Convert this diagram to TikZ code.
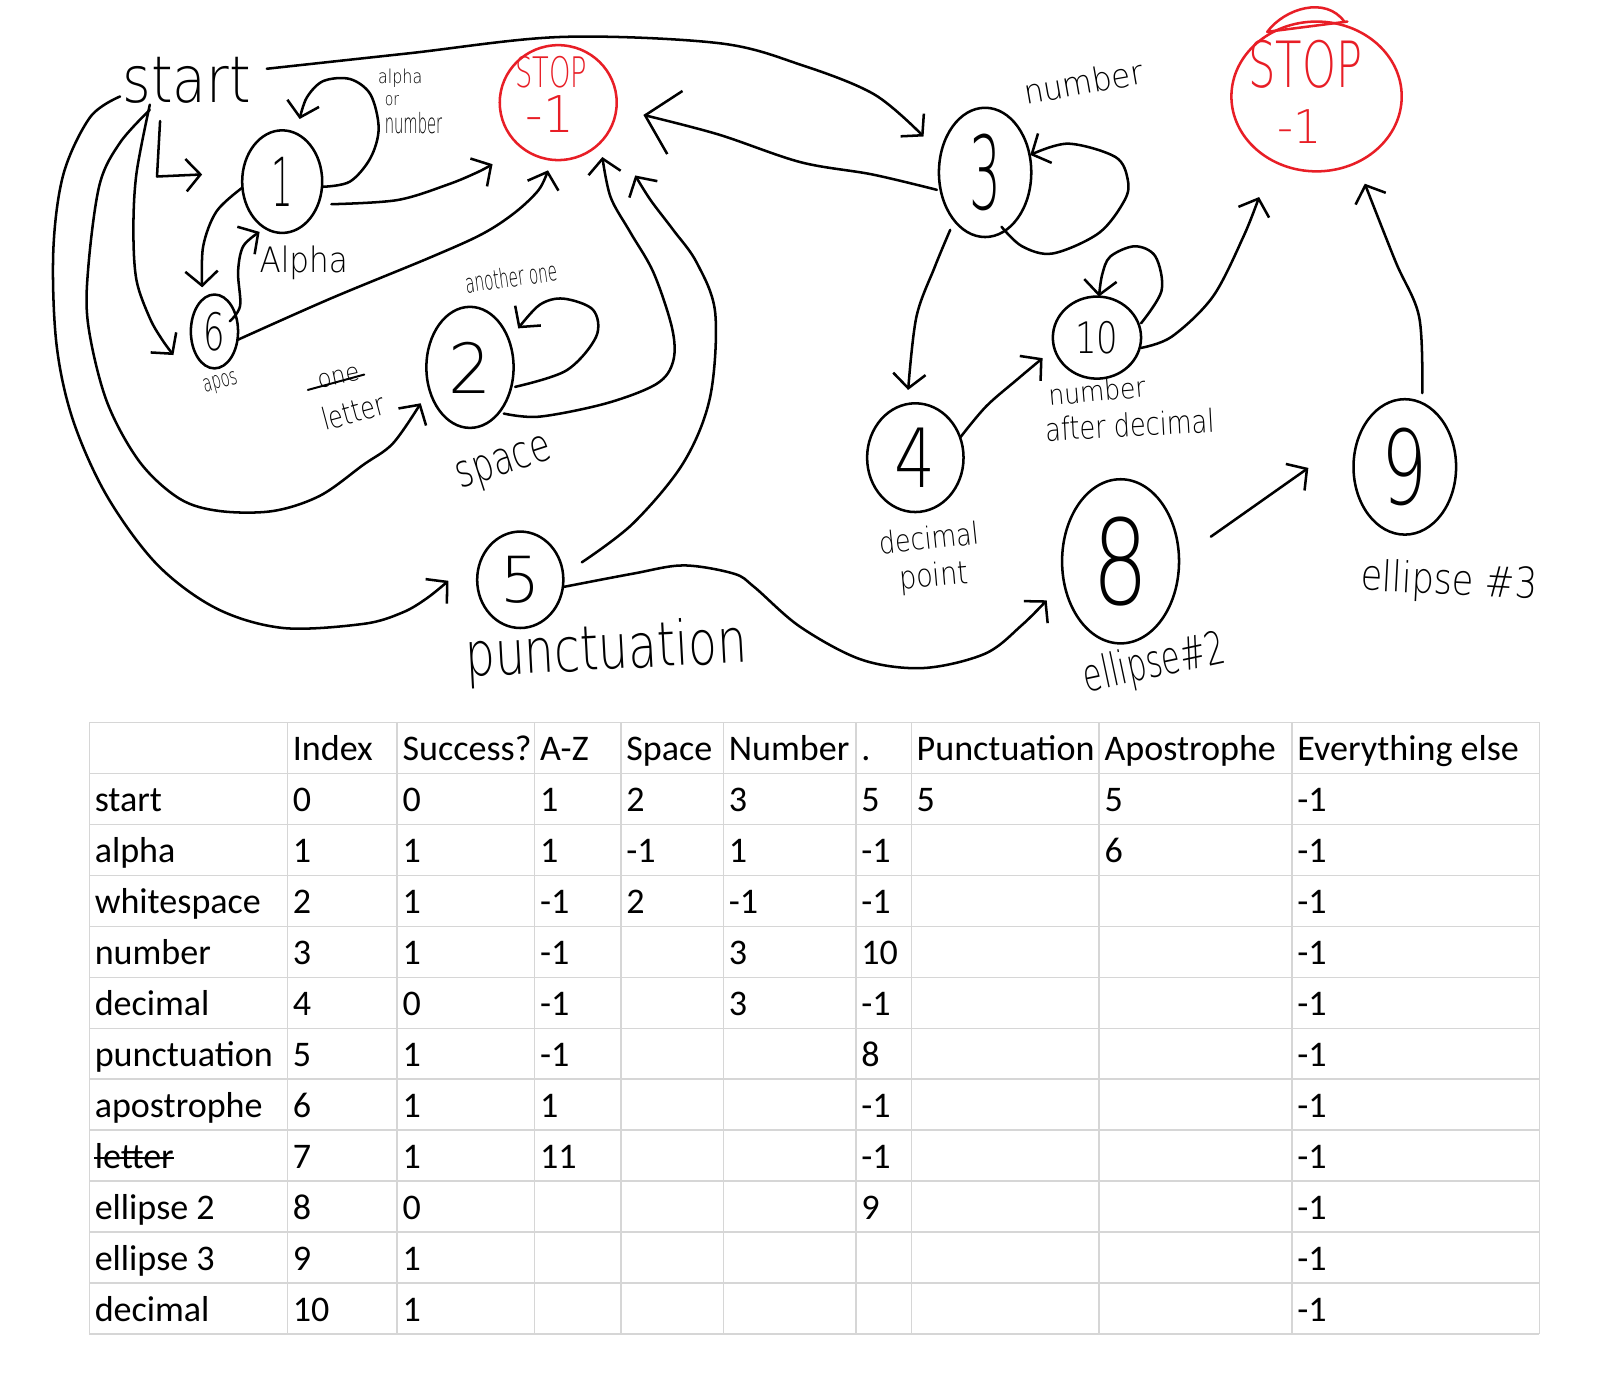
\documentclass[tikz,border=0pt]{standalone}
\usepackage{fontspec}
\usepackage{graphicx}
\setmainfont{Carlito}
\IfFontExistsTF{DejaVu Sans ExtraLight}{\newfontfamily\handfont{DejaVu Sans ExtraLight}}{\newfontfamily\handfont{Carlito}}
\usetikzlibrary{arrows.meta,shapes.geometric}
\definecolor{hred}{RGB}{232,30,38}
\definecolor{gridc}{RGB}{214,214,214}
\newcommand{\fs}[1]{\fontsize{#1}{#1}\selectfont}
\newcommand{\hb}[3]{{\handfont\resizebox*{#1}{#2}{#3}}}
\begin{document}
\begin{tikzpicture}[x=0.02cm,y=-0.02cm,
  ink/.style={line width=1.4pt,line cap=round,line join=round},
  arr/.style={ink,-{Straight Barb[length=8pt,width=18pt]}},
  bigarr/.style={ink,-{Straight Barb[length=17pt,width=36pt]}},
  state/.style={ellipse,draw,ink,inner sep=0pt},
  stopst/.style={ellipse,draw=hred,ink,inner sep=-0.2cm,text=hred,align=center},
  hand/.style={inner sep=0pt},
  cell/.style={anchor=base west,inner sep=0pt,font=\fs{20}},
  gridline/.style={draw=gridc,line width=0.8pt},
  hsmooth/.style={smooth,tension=0.55}
]
\useasboundingbox (0,0) rectangle (1568,1356);
\fill[white] (0,0) rectangle (1568,1356);

% ---------------- states ----------------
\node[hand] (start) at (182,78) {\hb{2.5cm}{0.9cm}{start}};

\node[state,minimum width=1.56cm,minimum height=2.0cm] (n1) at (275,177) {\hb{0.42cm}{0.96cm}{1}};
\node[state,minimum width=0.92cm,minimum height=1.44cm] (n6) at (209,323) {\hb{0.42cm}{0.76cm}{6}};
\node[state,minimum width=1.7cm,minimum height=2.36cm] (n2) at (458,358) {\hb{0.84cm}{1.0cm}{2}};
\node[state,minimum width=1.68cm,minimum height=1.88cm] (n5) at (507,565) {\hb{0.78cm}{0.92cm}{5}};
\node[state,minimum width=1.8cm,minimum height=2.52cm] (n3) at (960,168) {\hb{0.62cm}{1.5cm}{3}};
\node[state,minimum width=1.88cm,minimum height=2.12cm] (n4) at (892,446) {\hb{0.8cm}{1.16cm}{4}};
\node[state,minimum width=1.72cm,minimum height=1.6cm] (n10) at (1069,329) {\hb{0.84cm}{0.64cm}{10}};
\node[state,minimum width=2.28cm,minimum height=3.2cm] (n8) at (1092,547) {\hb{1.1cm}{1.74cm}{8}};
\node[state,minimum width=2.0cm,minimum height=2.64cm] (n9) at (1369,455) {\hb{0.9cm}{1.52cm}{9}};

\node[stopst,minimum width=2.28cm,minimum height=2.24cm] (stopL) at (544,100)
  {\hb{1.4cm}{0.62cm}{STOP}\rule{0.28cm}{0pt}\\[0.125cm]\hb{0.94cm}{0.72cm}{-1}\rule{0.32cm}{0pt}\rule[-0.32cm]{0pt}{0pt}};
\node[stopst,minimum width=3.32cm,minimum height=2.92cm] (stopR) at (1283,94)
  {\hb{2.22cm}{0.94cm}{STOP}\rule{0.44cm}{0pt}\\[0.385cm]\hb{0.86cm}{0.66cm}{-1}\rule{0.68cm}{0pt}\rule[-0.18cm]{0pt}{0pt}};
\draw[ink,hred] (1235,31) .. controls (1252,8) and (1292,-4) .. (1310,21);
\draw[ink,hred] (1235,31) -- (1313,21);

% ---------------- labels ----------------
\node[hand] (labAl) at (390,76) {\hb{0.86cm}{0.36cm}{alpha}};
\node[hand] (labOr) at (382,98) {\hb{0.28cm}{0.2cm}{or}};
\node[hand] (labNu) at (403,120) {\hb{1.12cm}{0.42cm}{number}};
\node[hand] (labAlpha) at (296,256) {\hb{1.72cm}{0.66cm}{Alpha}};
\node[hand,rotate=15] (labApos) at (215,374) {\hb{0.68cm}{0.35cm}{apos}};
\node[hand,rotate=12] (labOne) at (330,368) {\hb{0.82cm}{0.28cm}{one}};
\draw[ink,line width=1.1pt] (300,380) -- (355,365);
\node[hand,rotate=15] (labLetter) at (344,401) {\hb{1.24cm}{0.46cm}{letter}};
\node[hand,rotate=8] (labAnother) at (498,270) {\hb{1.8cm}{0.4cm}{another one}};
\node[hand,rotate=18] (labSpace) at (492,454) {\hb{1.9cm}{0.68cm}{space}};
\node[hand,rotate=3] (labPunct) at (591,636) {\hb{5.5cm}{1.16cm}{punctuation}};
\node[hand,rotate=10] (labNumber) at (1056,80) {\hb{2.35cm}{0.5cm}{number}};
\node[hand,rotate=5] (labAfter1) at (1069,381) {\hb{1.9cm}{0.42cm}{number}};
\node[hand,rotate=3] (labAfter2) at (1101,414) {\hb{3.3cm}{0.48cm}{after decimal}};
\node[hand,rotate=6] (labDec1) at (905,524) {\hb{1.95cm}{0.46cm}{decimal}};
\node[hand,rotate=5] (labDec2) at (910,563) {\hb{1.35cm}{0.6cm}{point}};
\node[hand,rotate=12] (labE2) at (1125,648) {\hb{2.8cm}{0.86cm}{ellipse\#2}};
\node[hand,rotate=-3] (labE3) at (1412,568) {\hb{3.44cm}{0.8cm}{ellipse \#3}};

% ---------------- connector end points ----------------
\coordinate (sA) at (156,118);  \coordinate (tA) at (197,170);
\coordinate (sB) at (146,102);  \coordinate (tB) at (169,346);
\coordinate (sC) at (146,107);  \coordinate (tC) at (410,393);
\coordinate (sD) at (117,94);   \coordinate (tD) at (437,566);
\coordinate (sE) at (260,67);   \coordinate (tE) at (900,133);
\coordinate (l1s) at (315,182); \coordinate (l1t) at (292,116);
\coordinate (a1s) at (323,199); \coordinate (a1t) at (480,160);
\coordinate (b1s) at (236,183); \coordinate (b1t) at (197,280);
\coordinate (c6s) at (224,313); \coordinate (c6t) at (253,226);
\coordinate (d6s) at (232,331); \coordinate (d6t) at (534,166);
\coordinate (l2s) at (502,377); \coordinate (l2t) at (505,320);
\coordinate (e2s) at (491,403); \coordinate (e2t) at (587,153);
\coordinate (f5s) at (567,548); \coordinate (f5t) at (619,171);
\coordinate (g3s) at (913,185); \coordinate (g3t) at (627,112);
\coordinate (l3s) at (976,221); \coordinate (l3t) at (1004,151);
\coordinate (h3s) at (926,224); \coordinate (h3t) at (885,380);
\coordinate (i4s) at (936,426); \coordinate (i4t) at (1016,349);
\coordinate (l10s) at (1112,315); \coordinate (l10t) at (1071,289);
\coordinate (j10s) at (1112,339); \coordinate (j10t) at (1227,192);
\coordinate (k9s) at (1386,383); \coordinate (k9t) at (1330,179);
\coordinate (m8s) at (1180,523); \coordinate (m8t) at (1275,456);
\coordinate (p5s) at (549,572);  \coordinate (p5t) at (1020,585);

% ---------------- connectors ----------------
\draw[arr] (sA) -- (153,172) -- (tA);
\draw[arr] plot[hsmooth] coordinates {(sB) (133,169) (130,224) (133,273) (146,310) (158,331) (tB)};
\draw[arr] plot[hsmooth] coordinates {(sC) (117,139) (97,180) (86,261) (86,317) (104,391) (136,450) (175,486) (214,498) (266,498) (312,483) (354,453) (383,432) (tC)};
\draw[arr] plot[hsmooth] coordinates {(sD) (88,114) (62,169) (52,243) (55,335) (71,409) (104,483) (153,550) (211,593) (276,612) (354,608) (392,597) (416,583) (tD)};
\draw[arr] plot[hsmooth] coordinates {(sE) (398,52) (547,36) (700,42) (780,63) (852,92) (tE)};
\draw[arr] plot[hsmooth] coordinates {(l1s) (341,177) (361,154) (369,125) (361,92) (341,77) (315,79) (299,95) (l1t)};
\draw[arr] plot[hsmooth] coordinates {(a1s) (387,195) (436,180) (465,168) (a1t)};
\draw[arr] plot[hsmooth] coordinates {(b1s) (211,206) (198,240) (b1t)};
\draw[arr] plot[hsmooth] coordinates {(c6s) (234,298) (232,265) (237,240) (c6t)};
\draw[arr] plot[hsmooth] coordinates {(d6s) (322,291) (419,251) (470,228) (502,207) (525,185) (d6t)};
\draw[arr] plot[hsmooth] coordinates {(l2s) (552,361) (581,328) (578,302) (549,291) (526,297) (l2t)};
\draw[arr] plot[hsmooth] coordinates {(e2s) (526,406) (591,393) (640,374) (656,352) (655,320) (637,266) (614,226) (595,192) (e2t)};
\draw[arr] plot[hsmooth] coordinates {(f5s) (617,510) (666,451) (692,387) (697,305) (679,256) (656,224) (634,195) (f5t)};
\draw[bigarr] plot[hsmooth] coordinates {(g3s) (850,170) (780,158) (700,131) (g3t)};
\draw[arr] plot[hsmooth] coordinates {(l3s) (996,240) (1026,247) (1071,227) (1096,195) (1099,175) (1087,153) (1041,140) (l3t)};
\draw[arr] plot[hsmooth] coordinates {(h3s) (911,260) (893,309) (h3t)};
\draw[arr] plot[hsmooth] coordinates {(i4s) (961,396) (991,370) (i4t)};
\draw[arr] plot[hsmooth] coordinates {(l10s) (1132,283) (1126,250) (1106,240) (1082,250) (1074,268) (l10t)};
\draw[arr] plot[hsmooth] coordinates {(j10s) (1142,328) (1182,289) (1212,230) (j10t)};
\draw[arr] plot[hsmooth] coordinates {(k9s) (1383,309) (1360,255) (k9t)};
\draw[arr] (m8s) -- (m8t);
\draw[arr] plot[hsmooth] coordinates {(p5s) (617,559) (666,551) (715,559) (735,572) (780,611) (840,643) (900,651) (960,637) (996,609) (p5t)};

% ---------------- table ----------------
\foreach \k in {0,...,12} \draw[gridline] (87,704+\k*49.67) -- (1500,704+\k*49.67);
\foreach \xx in {87,280,387,521,605,705,834,888,1071,1259,1500} \draw[gridline] (\xx,704) -- (\xx,1300);

\foreach \rowlist [count=\r from 0] in {
  {,Index,Success?,A-Z,Space,Number,.,Punctuation,Apostrophe,Everything else},
  {start,0,0,1,2,3,5,5,5,-1},
  {alpha,1,1,1,-1,1,-1,,6,-1},
  {whitespace,2,1,-1,2,-1,-1,,,-1},
  {number,3,1,-1,,3,10,,,-1},
  {decimal,4,0,-1,,3,-1,,,-1},
  {punctuation,5,1,-1,,,8,,,-1},
  {apostrophe,6,1,1,,,-1,,,-1},
  {letter,7,1,11,,,-1,,,-1},
  {ellipse 2,8,0,,,,9,,,-1},
  {ellipse 3,9,1,,,,,,,-1},
  {decimal,10,1,,,,,,,-1}}{
  \foreach \cell [count=\c from 0] in \rowlist {
    \pgfmathsetmacro{\xx}{{87,280,387,521,605,705,834,888,1071,1259}[\c]}
    \node[cell] (c-\r-\c) at (\xx+5,704+\r*49.67+37) {\cell};
  }
}
\draw[line width=1pt] ([yshift=5.5pt]c-8-0.base west) -- ([yshift=5.5pt]c-8-0.base east);
\end{tikzpicture}
\end{document}
